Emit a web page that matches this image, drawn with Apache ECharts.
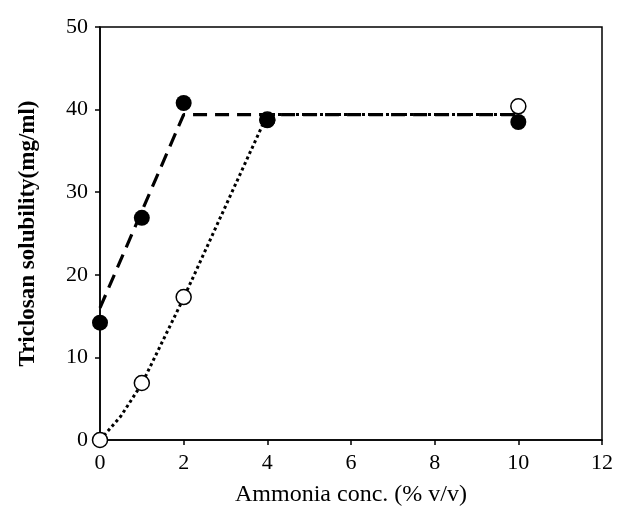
<!DOCTYPE html>
<html><head><meta charset="utf-8">
<script src="https://cdn.jsdelivr.net/npm/echarts@6/dist/echarts.min.js"></script>
<style>html,body{margin:0;padding:0;background:#fff}#c{width:618px;height:513px}</style>
</head><body><div id="c"></div>
<script>
// Data
const concFilled = [0, 1, 2, 4, 10];
const solFilled = [14.2, 26.9, 40.8, 38.7, 38.5];
const concOpen = [0, 1, 2, 4, 10];
const solOpen = [0, 6.9, 17.3, 38.8, 40.4];
// Hand-drawn trend lines
const dashX = [0, 2, 10];
const dashY = [16, 39.4, 39.4];
const dotX = [0, 0.5, 1, 2, 4, 10];
const dotY = [0, 2.9, 6.8, 17.2, 39.4, 39.4];
const xTicks = [0, 2, 4, 6, 8, 10, 12];
const yTicks = [0, 10, 20, 30, 40, 50];

const zip = (a, b) => a.map((v, i) => [v, b[i]]);
const font = 'Liberation Serif';
const chart = echarts.init(document.getElementById('c'));
chart.setOption({
  backgroundColor: '#fff',
  animation: false,
  grid: { left: 100, right: 16, top: 27, bottom: 73, show: true, borderColor: '#000', borderWidth: 1.5 },
  xAxis: {
    type: 'value', min: xTicks[0], max: xTicks[xTicks.length - 1], interval: 2,
    name: 'Ammonia conc. (% v/v)', nameLocation: 'middle', nameGap: 43,
    nameTextStyle: { fontFamily: font, fontSize: 24, color: '#000' },
    axisLine: { lineStyle: { color: '#000', width: 1.5 } },
    axisTick: { show: true, length: 5, lineStyle: { color: '#000', width: 1.5 } },
    axisLabel: { fontFamily: font, fontSize: 22, color: '#000', margin: 12 },
    splitLine: { show: false }
  },
  yAxis: {
    type: 'value', min: yTicks[0], max: yTicks[yTicks.length - 1], interval: 10,
    name: 'Triclosan solubility(mg/ml)', nameLocation: 'middle', nameGap: 60,
    nameTextStyle: { fontFamily: font, fontSize: 23, color: '#000', fontWeight: 'bold' },
    axisLine: { lineStyle: { color: '#000', width: 1.5 } },
    axisTick: { show: true, length: 5, lineStyle: { color: '#000', width: 1.5 } },
    axisLabel: { fontFamily: font, fontSize: 22, color: '#000', margin: 12 },
    splitLine: { show: false }
  },
  series: [
    { type: 'line', data: zip(dashX, dashY), symbol: 'none', z: 2,
      lineStyle: { color: '#000', width: 3.2, type: [14, 8] } },
    { type: 'line', data: zip(dotX, dotY), symbol: 'none', z: 2,
      lineStyle: { color: '#000', width: 3, type: [3, 3] } },
    { type: 'scatter', data: zip(concOpen, solOpen), symbol: 'circle', symbolSize: 15, z: 3,
      itemStyle: { color: '#fff', borderColor: '#000', borderWidth: 1.5, opacity: 1 } },
    { type: 'scatter', data: zip(concFilled, solFilled), symbol: 'circle', symbolSize: 16, z: 4,
      itemStyle: { color: '#000', opacity: 1 } }
  ]
});
</script></body></html>
